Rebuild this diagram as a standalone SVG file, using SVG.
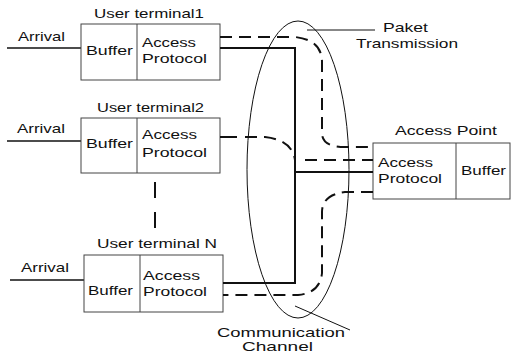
<svg xmlns="http://www.w3.org/2000/svg" width="511" height="355" viewBox="0 0 511 355">
<style>
text{font-family:"Liberation Sans",Arial,sans-serif;font-size:13px;fill:#111}
.box{fill:none;stroke:#444;stroke-width:1}
.sol{fill:none;stroke:#111;stroke-width:2}
.dash{fill:none;stroke:#111;stroke-width:2;stroke-dasharray:12 7}
.thin{fill:none;stroke:#111;stroke-width:1}
.arr{stroke:#111;stroke-width:1.5}
</style>
<rect width="511" height="355" fill="#fff"/>
<g id="terminal1">
<text x="94" y="18" textLength="110" lengthAdjust="spacingAndGlyphs">User terminal1</text>
<text x="18" y="41" textLength="47" lengthAdjust="spacingAndGlyphs">Arrival</text>
<line class="arr" x1="7" y1="48" x2="81" y2="48"/>
<rect class="box" x="81" y="24" width="139" height="56"/>
<line class="box" x1="137" y1="24" x2="137" y2="80"/>
<text x="86" y="55" textLength="47" lengthAdjust="spacingAndGlyphs">Buffer</text>
<text x="142" y="46.5" textLength="54" lengthAdjust="spacingAndGlyphs">Access</text>
<text x="142" y="63" textLength="65" lengthAdjust="spacingAndGlyphs">Protocol</text>
</g>
<g id="terminal2">
<text x="97" y="112" textLength="107" lengthAdjust="spacingAndGlyphs">User terminal2</text>
<text x="17" y="133" textLength="48" lengthAdjust="spacingAndGlyphs">Arrival</text>
<line class="arr" x1="7" y1="141" x2="81" y2="141"/>
<rect class="box" x="81" y="118" width="139" height="55"/>
<line class="box" x1="137" y1="118" x2="137" y2="173"/>
<text x="86" y="148" textLength="47" lengthAdjust="spacingAndGlyphs">Buffer</text>
<text x="142" y="139" textLength="55" lengthAdjust="spacingAndGlyphs">Access</text>
<text x="142" y="157" textLength="65" lengthAdjust="spacingAndGlyphs">Protocol</text>
</g>
<g id="terminalN">
<text x="97" y="248" textLength="120" lengthAdjust="spacingAndGlyphs">User terminal N</text>
<text x="21" y="272" textLength="48" lengthAdjust="spacingAndGlyphs">Arrival</text>
<line class="arr" x1="10" y1="280" x2="84" y2="280"/>
<rect class="box" x="84" y="255" width="139" height="57"/>
<line class="box" x1="140" y1="255" x2="140" y2="312"/>
<text x="88" y="295" textLength="45" lengthAdjust="spacingAndGlyphs">Buffer</text>
<text x="143" y="280" textLength="57" lengthAdjust="spacingAndGlyphs">Access</text>
<text x="143" y="296" textLength="64" lengthAdjust="spacingAndGlyphs">Protocol</text>
</g>
<g id="accesspoint">
<text x="395" y="135" textLength="102" lengthAdjust="spacingAndGlyphs">Access Point</text>
<rect class="box" x="373" y="143" width="137" height="56"/>
<line class="box" x1="456" y1="143" x2="456" y2="199"/>
<text x="378" y="167" textLength="55" lengthAdjust="spacingAndGlyphs">Access</text>
<text x="378" y="183" textLength="64" lengthAdjust="spacingAndGlyphs">Protocol</text>
<text x="461" y="175" textLength="45" lengthAdjust="spacingAndGlyphs">Buffer</text>
</g>
<g id="channel">
<ellipse class="thin" cx="298" cy="169.5" rx="51" ry="148.5"/>
<line class="thin" x1="295" y1="306" x2="350" y2="330" stroke-width="1.5"/>
<text x="217" y="337" textLength="128" lengthAdjust="spacingAndGlyphs">Communication</text>
<text x="242" y="351" textLength="71" lengthAdjust="spacingAndGlyphs">Channel</text>
</g>
<g id="paket">
<line class="thin" x1="307" y1="30" x2="375" y2="30" stroke-width="1.5"/>
<text x="383" y="32" textLength="45" lengthAdjust="spacingAndGlyphs">Paket</text>
<text x="356" y="48" textLength="102" lengthAdjust="spacingAndGlyphs">Transmission</text>
</g>
<g id="connectors">
<path class="sol" d="M220,48 H295 V283 H223"/>
<path class="sol" d="M295,172 H373"/>
<path class="sol" d="M220,137 H237"/>
<path class="dash" d="M245,137 H265 Q292,140 295,160"/>
<path class="dash" d="M220,37 H295 Q322,40 322,62 V133 Q322,147 345,147 H373"/>
<path class="dash" d="M305,160 H373"/>
<path class="dash" d="M373,192 H345 Q322,195 322,212 V273 Q320,293 298,295 H223"/>
<line class="sol" x1="155" y1="182" x2="155" y2="230" stroke-dasharray="16 14"/>
</g>
</svg>
